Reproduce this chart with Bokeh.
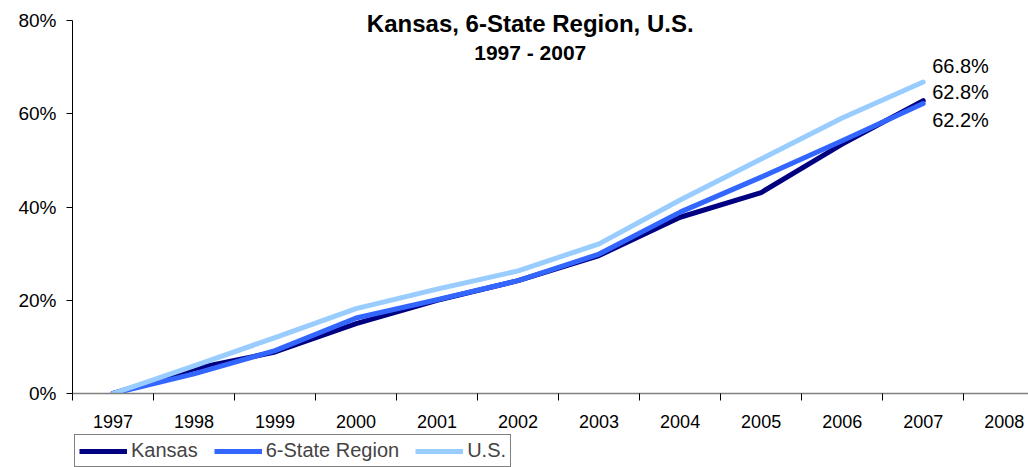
from bokeh.plotting import figure
from bokeh.layouts import column
from bokeh.models import Range1d, FixedTicker, Legend, LegendItem, Label
from bokeh.embed import file_html
from bokeh.resources import INLINE

years = [str(y) for y in range(1997, 2009)]
kansas = [0.0, 5.3, 8.9, 15.0, 20.0, 24.2, 29.6, 37.8, 43.1, 53.5, 62.8]
region = [0.0, 4.2, 9.2, 16.2, 20.1, 24.2, 29.9, 38.9, 46.4, 54.2, 62.2]
us = [0.0, 5.9, 12.0, 18.2, 22.4, 26.3, 32.1, 41.5, 50.3, 59.1, 66.8]
series_names = ["Kansas", "6-State Region", "U.S."]
y_ticks = [0, 20, 40, 60, 80]
title_lines = ["Kansas, 6-State Region, U.S.", "1997 - 2007"]

FONT = "Liberation Sans"
colors = ["#000080", "#3366FF", "#99CCFF"]
series = [kansas, region, us]

xs = [i + 0.5 for i in range(len(kansas))]
centers = [i + 0.5 for i in range(len(years))]
bounds = list(range(len(years) + 1))

p = figure(frame_width=956, frame_height=393, output_backend="svg", toolbar_location=None,
           x_range=Range1d(0, 11.8), y_range=Range1d(0, 84.29),
           min_border_left=72, min_border_right=0, min_border_top=0,
           min_border_bottom=0)
p.outline_line_color = None
p.xgrid.visible = False
p.ygrid.visible = False
p.background_fill_color = "white"
p.border_fill_color = "white"

for vals, c in zip(series, colors):
    p.line(xs, vals, line_color=c, line_width=5, line_join="round", line_cap="round")

# y axis
ya = p.yaxis[0]
ya.bounds = (0, 80)
ya.ticker = FixedTicker(ticks=y_ticks, minor_ticks=[])
ya.major_label_overrides = {t: f"{t}%" for t in y_ticks}
ya.axis_line_color = "black"
ya.major_tick_line_color = "black"
ya.major_tick_in = 0
ya.major_tick_out = 6
ya.minor_tick_out = 0
ya.minor_tick_in = 0
ya.major_label_standoff = 10
ya.major_label_text_font = FONT
ya.major_label_text_font_size = "19px"
ya.major_label_text_color = "black"

# x axis
xa = p.xaxis[0]
xa.ticker = FixedTicker(ticks=centers, minor_ticks=bounds)
xa.major_label_overrides = {c: y for c, y in zip(centers, years)}
xa.axis_line_color = "#808080"
xa.axis_line_width = 1.5
xa.major_tick_in = 0
xa.major_tick_out = 0
xa.minor_tick_in = 0
xa.minor_tick_out = 7
xa.minor_tick_line_color = "black"
xa.major_label_standoff = 14
xa.major_label_text_font = FONT
xa.major_label_text_font_size = "18px"
xa.major_label_text_color = "black"

# end-of-line value labels
last = len(kansas) - 1
end_offsets = [9, -17, 16]
for vals, off in zip(series, end_offsets):
    p.add_layout(Label(x=xs[last], y=vals[last], text=f"{vals[last]:.1f}%",
                       x_offset=9, y_offset=off, text_align="left",
                       text_baseline="middle", text_font=FONT,
                       text_font_size="20px", text_color="black"))

# title
for line, yv, fs in zip(title_lines, [79.3, 73.1], ["24px", "21px"]):
    p.add_layout(Label(x=5.65, y=yv, text=line, text_align="center",
                       text_baseline="middle", text_font=FONT,
                       text_font_size=fs, text_font_style="bold",
                       text_color="black"))

# legend strip (same series drawn out of view so the legend can use them)
lg = figure(frame_width=1028, frame_height=37, output_backend="svg", toolbar_location=None,
            x_range=Range1d(100, 101), y_range=Range1d(100, 101),
            x_axis_type=None, y_axis_type=None,
            min_border_left=0, min_border_right=0, min_border_top=0,
            min_border_bottom=0)
lg.outline_line_color = None
lg.xgrid.visible = False
lg.ygrid.visible = False
lg_renderers = []
for vals, c in zip(series, colors):
    lg_renderers.append(lg.line(xs, vals, line_color=c, line_width=5))

legend = Legend(items=[LegendItem(label=n, renderers=[r]) for n, r in zip(series_names, lg_renderers)],
                orientation="horizontal", location=(74, 0), margin=0,
                padding=4, spacing=16, glyph_width=48, glyph_height=20,
                label_standoff=4, label_height=20,
                label_text_font=FONT, label_text_font_size="20px",
                border_line_color="black", border_line_width=1,
                background_fill_color="white", background_fill_alpha=1)
lg.add_layout(legend, "center")

layout = column(p, lg, spacing=0)
open("out.html", "w").write(file_html(layout, INLINE))
